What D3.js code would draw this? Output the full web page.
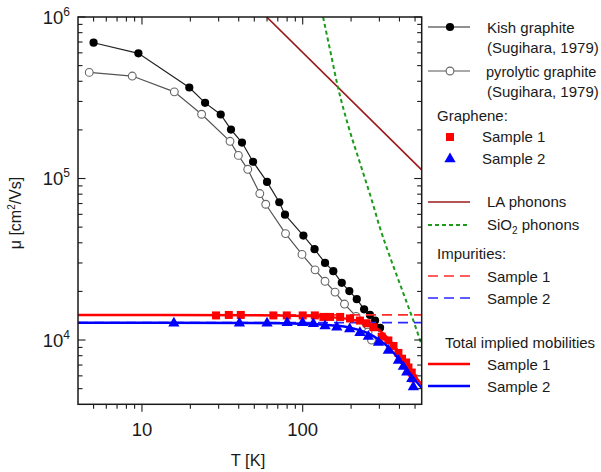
<!DOCTYPE html>
<html><head><meta charset="utf-8">
<script src="https://cdn.jsdelivr.net/npm/d3@7"></script>
<style>
body{margin:0;background:#fff;}
text{font-family:"Liberation Sans",Arial,Helvetica,sans-serif;fill:#1a1a1a;}
</style></head>
<body><svg id="c" width="601" height="472"></svg>
<script>
// ---- data ----
const T_kish  = [5, 9.5, 19.7, 24.7, 30.9, 35.8, 41.9, 49.1, 60, 71.5, 77.6, 101, 118.5, 137.7, 155, 175, 195, 217, 241, 262, 282, 303];
const mu_kish = [6.93e5, 5.96e5, 3.66e5, 2.94e5, 2.49e5, 2.01e5, 1.67e5, 1.27e5, 9.53e4, 7.13e4, 5.97e4, 4.43e4, 3.65e4, 3.0e4, 2.67e4, 2.26e4, 2.01e4, 1.79e4, 1.55e4, 1.43e4, 1.32e4, 1.19e4];
const T_pyro  = [4.7, 8.7, 15.9, 23.5, 35.3, 39.8, 45.5, 54.1, 58.9, 78.2, 99, 119.4, 137.7, 159, 182, 215, 255, 268];
const mu_pyro = [4.54e5, 4.31e5, 3.44e5, 2.5e5, 1.70e5, 1.39e5, 1.14e5, 8.07e4, 6.93e4, 4.56e4, 3.39e4, 2.72e4, 2.31e4, 1.98e4, 1.67e4, 1.40e4, 1.12e4, 1.0e4];
const T_s1  = [28.9, 34.7, 41.2, 65.7, 79.6, 100, 119, 134.5, 148, 171, 197, 227, 250, 275, 310, 341, 367, 394, 415, 440, 455, 477, 488];
const mu_s1 = [1.42e4, 1.43e4, 1.43e4, 1.42e4, 1.42e4, 1.42e4, 1.42e4, 1.39e4, 1.39e4, 1.39e4, 1.36e4, 1.32e4, 1.27e4, 1.20e4, 1.05e4, 9.94e3, 9.19e3, 8.32e3, 7.66e3, 7.26e3, 6.76e3, 6.29e3, 5.78e3];
const T_s2  = [15.8, 40.4, 60, 80, 99.8, 116.5, 137.7, 163, 196, 227, 256, 296, 341, 394, 423, 444, 477, 488];
const mu_s2 = [1.27e4, 1.27e4, 1.27e4, 1.28e4, 1.28e4, 1.26e4, 1.22e4, 1.20e4, 1.17e4, 1.11e4, 1.05e4, 9.66e3, 8.62e3, 7.47e3, 6.86e3, 6.32e3, 5.75e3, 5.12e3];
const T_LA  = [59.7, 550];
const mu_LA = [1.0e6, 1.13e5];
const T_SiO2  = [133.9, 148, 166.7, 191.5, 227.4, 269, 303, 350, 423, 488, 551];
const mu_SiO2 = [1.0e6, 6.24e5, 3.58e5, 2.14e5, 1.244e5, 7.34e4, 4.92e4, 3.25e4, 1.945e4, 1.32e4, 9.26e3];
const T_imp = [4, 550];
const mu_imp1 = [1.43e4, 1.43e4];
const mu_imp2 = [1.28e4, 1.28e4];
const T_tot = [4, 50, 100, 150, 200, 250, 300, 350, 400, 450, 500, 550];
const mu_tot1 = [1.43e4, 1.425e4, 1.41e4, 1.385e4, 1.34e4, 1.27e4, 1.15e4, 9.9e3, 8.3e3, 7.0e3, 6.0e3, 5.3e3];
const mu_tot2 = [1.28e4, 1.275e4, 1.26e4, 1.235e4, 1.19e4, 1.11e4, 1.0e4, 8.8e3, 7.5e3, 6.4e3, 5.65e3, 5.05e3];
const xMajor = [10, 100];
const xMajorLabels = ["10", "100"];
const xMinor = [5,6,7,8,9,20,30,40,50,60,70,80,90,200,300,400,500];
const yMajor = [1e4, 1e5, 1e6];
const yMajorExp = ["4", "5", "6"];
const yMinor = [5e3,6e3,7e3,8e3,9e3,2e4,3e4,4e4,5e4,6e4,7e4,8e4,9e4,2e5,3e5,4e5,5e5,6e5,7e5,8e5,9e5];

// ---- layout ----
const L = 78, R = 421.7, T = 17, B = 404.3;
const svg = d3.select("#c");
const x = d3.scaleLog().domain([4, 550]).range([L, R]);
const y = d3.scaleLog().domain([4000, 1e6]).range([B, T]);
const zip = (a, b) => a.map((v, i) => [v, b[i]]);
const line = d3.line().x(d => x(d[0])).y(d => y(d[1]));
const smooth = d3.line().x(d => x(d[0])).y(d => y(d[1])).curve(d3.curveMonotoneX);

svg.append("defs").append("clipPath").attr("id", "clip")
  .append("rect").attr("x", L).attr("y", T).attr("width", R - L).attr("height", B - T);
const plot = svg.append("g").attr("clip-path", "url(#clip)");

// graphite
plot.append("path").attr("d", line(zip(T_pyro, mu_pyro))).attr("fill", "none").attr("stroke", "#555").attr("stroke-width", 1.2);
plot.append("path").attr("d", line(zip(T_kish, mu_kish))).attr("fill", "none").attr("stroke", "#222").attr("stroke-width", 1.2);
plot.selectAll(".pyro").data(zip(T_pyro, mu_pyro)).join("circle")
  .attr("cx", d => x(d[0])).attr("cy", d => y(d[1])).attr("r", 3.9)
  .attr("fill", "#fff").attr("stroke", "#666").attr("stroke-width", 1.1);
plot.selectAll(".kish").data(zip(T_kish, mu_kish)).join("circle")
  .attr("cx", d => x(d[0])).attr("cy", d => y(d[1])).attr("r", 4.1).attr("fill", "#000");

// theory lines
plot.append("path").attr("d", line(zip(T_LA, mu_LA))).attr("fill", "none").attr("stroke", "#9a1c1c").attr("stroke-width", 1.7);
plot.append("path").attr("d", smooth(zip(T_SiO2, mu_SiO2))).attr("fill", "none").attr("stroke", "#1c9a1c").attr("stroke-width", 2).attr("stroke-dasharray", "4,3");
plot.append("path").attr("d", line(zip(T_imp, mu_imp1))).attr("fill", "none").attr("stroke", "#ff2a2a").attr("stroke-width", 1.7).attr("stroke-dasharray", "10,6");
plot.append("path").attr("d", line(zip(T_imp, mu_imp2))).attr("fill", "none").attr("stroke", "#2a2aff").attr("stroke-width", 1.7).attr("stroke-dasharray", "10,6");

// graphene data
plot.selectAll(".s1").data(zip(T_s1, mu_s1)).join("rect")
  .attr("x", d => x(d[0]) - 4).attr("y", d => y(d[1]) - 4).attr("width", 8).attr("height", 8).attr("fill", "#ff0000");
const tri = d3.symbol().type(d3.symbolTriangle).size(55);
plot.selectAll(".s2").data(zip(T_s2, mu_s2)).join("path")
  .attr("d", tri).attr("transform", d => `translate(${x(d[0])},${y(d[1])})`).attr("fill", "#0000ff");

// totals
plot.append("path").attr("d", smooth(zip(T_tot, mu_tot1))).attr("fill", "none").attr("stroke", "#ff0000").attr("stroke-width", 2.4);
plot.append("path").attr("d", smooth(zip(T_tot, mu_tot2))).attr("fill", "none").attr("stroke", "#0000ff").attr("stroke-width", 2.4);

// ---- axes ----
const ax = svg.append("g").attr("stroke", "#1a1a1a").attr("stroke-width", 1.1);
svg.append("rect").attr("x", L).attr("y", T).attr("width", R - L).attr("height", B - T)
  .attr("fill", "none").attr("stroke", "#1a1a1a").attr("stroke-width", 1.5);
xMinor.forEach(v => {
  ax.append("line").attr("x1", x(v)).attr("x2", x(v)).attr("y1", B).attr("y2", B + 4.5);
  ax.append("line").attr("x1", x(v)).attr("x2", x(v)).attr("y1", T).attr("y2", T + 4.5);
});
xMajor.forEach(v => {
  ax.append("line").attr("x1", x(v)).attr("x2", x(v)).attr("y1", B).attr("y2", B + 7.5);
  ax.append("line").attr("x1", x(v)).attr("x2", x(v)).attr("y1", T).attr("y2", T + 7.5);
});
yMinor.forEach(v => {
  ax.append("line").attr("x1", L).attr("x2", L + 4.5).attr("y1", y(v)).attr("y2", y(v));
  ax.append("line").attr("x1", R).attr("x2", R - 4.5).attr("y1", y(v)).attr("y2", y(v));
});
yMajor.forEach(v => {
  ax.append("line").attr("x1", L).attr("x2", L + 7.5).attr("y1", y(v)).attr("y2", y(v));
  ax.append("line").attr("x1", R).attr("x2", R - 7.5).attr("y1", y(v)).attr("y2", y(v));
});
xMajor.forEach((v, i) => {
  svg.append("text").attr("x", x(v)).attr("y", 436).attr("text-anchor", "middle")
    .attr("font-size", 18.5).text(xMajorLabels[i]);
});
yMajor.forEach((v, i) => {
  const t = svg.append("text").attr("x", 70).attr("y", y(v) + 6.5).attr("text-anchor", "end").attr("font-size", 18.5);
  t.append("tspan").text("10");
  t.append("tspan").attr("dy", -8).attr("font-size", 12).text(yMajorExp[i]);
});
svg.append("text").attr("x", 248).attr("y", 466).attr("text-anchor", "middle").attr("font-size", 16.5).text("T [K]");
const yt = svg.append("text").attr("transform", "translate(21,213) rotate(-90)").attr("text-anchor", "middle").attr("font-size", 16);
yt.append("tspan").text("μ [cm");
yt.append("tspan").attr("dy", -6).attr("font-size", 10).text("2");
yt.append("tspan").attr("dy", 6).text("/Vs]");

// ---- legend ----
const lg = svg.append("g");
const lx1 = 428, lx2 = 470, lc = 450;
function lgText(tx, ty, s, size) {
  return lg.append("text").attr("x", tx).attr("y", ty).attr("font-size", size || 15).text(s);
}
lg.append("line").attr("x1", lx1).attr("x2", lx2).attr("y1", 27).attr("y2", 27).attr("stroke", "#222").attr("stroke-width", 1.2);
lg.append("circle").attr("cx", lc).attr("cy", 27).attr("r", 4.1).attr("fill", "#000");
lgText(487, 33, "Kish graphite");
lgText(487, 53, "(Sugihara, 1979)");
lg.append("line").attr("x1", lx1).attr("x2", lx2).attr("y1", 71).attr("y2", 71).attr("stroke", "#555").attr("stroke-width", 1.2);
lg.append("circle").attr("cx", lc).attr("cy", 71).attr("r", 3.9).attr("fill", "#fff").attr("stroke", "#666").attr("stroke-width", 1.1);
lgText(486, 77, "pyrolytic graphite", 14.6);
lgText(487, 97, "(Sugihara, 1979)");
lgText(437, 121, "Graphene:");
lg.append("rect").attr("x", lc - 4).attr("y", 137 - 4).attr("width", 8).attr("height", 8).attr("fill", "#ff0000");
lgText(482, 142, "Sample 1");
lg.append("path").attr("d", tri).attr("transform", `translate(${lc},159)`).attr("fill", "#0000ff");
lgText(482, 164, "Sample 2");
lg.append("line").attr("x1", lx1).attr("x2", lx2).attr("y1", 202).attr("y2", 202).attr("stroke", "#9a1c1c").attr("stroke-width", 1.7);
lgText(487, 207, "LA phonons");
lg.append("line").attr("x1", lx1).attr("x2", lx2).attr("y1", 225).attr("y2", 225).attr("stroke", "#1c9a1c").attr("stroke-width", 2).attr("stroke-dasharray", "4,3");
const st = lgText(487, 230, "SiO");
st.append("tspan").attr("dy", 4).attr("font-size", 10).text("2");
st.append("tspan").attr("dy", -4).text(" phonons");
lgText(437, 259, "Impurities:");
lg.append("line").attr("x1", lx1).attr("x2", lx2).attr("y1", 276).attr("y2", 276).attr("stroke", "#ff2a2a").attr("stroke-width", 1.7).attr("stroke-dasharray", "10,6");
lgText(487, 282, "Sample 1");
lg.append("line").attr("x1", lx1).attr("x2", lx2).attr("y1", 298).attr("y2", 298).attr("stroke", "#2a2aff").attr("stroke-width", 1.7).attr("stroke-dasharray", "10,6");
lgText(487, 303.5, "Sample 2");
lgText(445, 348, "Total implied mobilities");
lg.append("line").attr("x1", lx1).attr("x2", lx2).attr("y1", 364).attr("y2", 364).attr("stroke", "#ff0000").attr("stroke-width", 2.4);
lgText(487, 370, "Sample 1");
lg.append("line").attr("x1", lx1).attr("x2", lx2).attr("y1", 386).attr("y2", 386).attr("stroke", "#0000ff").attr("stroke-width", 2.4);
lgText(487, 391.5, "Sample 2");
</script></body></html>
